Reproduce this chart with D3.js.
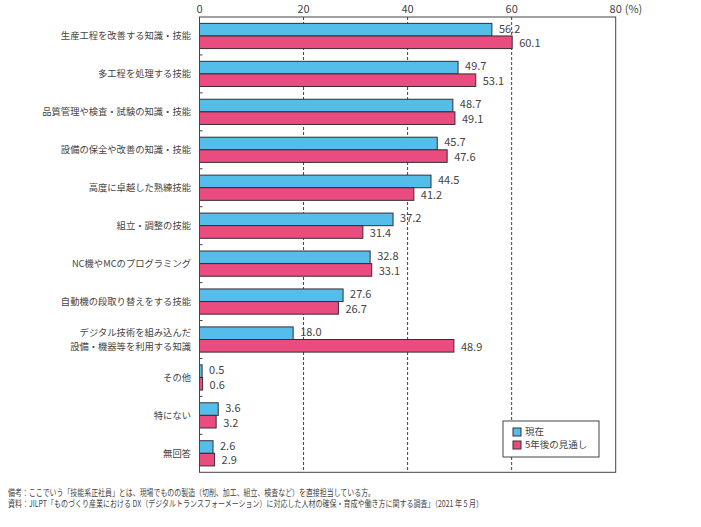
<!DOCTYPE html>
<html>
<head>
<meta charset="utf-8">
<script src="https://cdn.jsdelivr.net/npm/d3@7"></script>
<style>
  body { margin: 0; background: #fff; }
  text { font-family: "Noto Sans CJK JP", "Noto Sans", sans-serif; fill: #444; }
</style>
</head>
<body>
<div id="chart"></div>
<script>
// categories (top to bottom)
const categories = [
    "生産工程を改善する知識・技能",
    "多工程を処理する技能",
    "品質管理や検査・試験の知識・技能",
    "設備の保全や改善の知識・技能",
    "高度に卓越した熟練技能",
    "組立・調整の技能",
    "NC機やMCのプログラミング",
    "自動機の段取り替えをする技能",
    "デジタル技術を組み込んだ\n設備・機器等を利用する知識",
    "その他",
    "特にない",
    "無回答"
];
const current_values = [56.2, 49.7, 48.7, 45.7, 44.5, 37.2, 32.8, 27.6, 18.0, 0.5, 3.6, 2.6];
const future_values = [60.1, 53.1, 49.1, 47.6, 41.2, 31.4, 33.1, 26.7, 48.9, 0.6, 3.2, 2.9];
const series_names = ["現在", "5年後の見通し"];
const x_ticks = [0, 20, 40, 60, 80];
const notes = [
    "備考：ここでいう「技能系正社員」とは、現場でものの製造（切削、加工、組立、検査など）を直接担当している方。",
    "資料：JILPT「ものづくり産業における DX（デジタルトランスフォーメーション）に対応した人材の確保・育成や働き方に関する調査」（2021 年 5 月）"
];
const note_widths = [367, 475];

const colors = ["#55bde9", "#ea4c80"];
const width = 701, height = 527;
const margin = {top: 17, right: 85, bottom: 55, left: 199.5};

const svg = d3.select("#chart").append("svg")
    .attr("width", width)
    .attr("height", height);

// scales
const x = d3.scaleLinear()
    .domain([0, 80])
    .range([margin.left, 615.7]);

const y = d3.scaleBand()
    .domain(categories)
    .range([margin.top, 472.3]);

const bar_h = 12.6;
const pair_offset = (y.bandwidth() - 2 * bar_h) / 2;

// dashed grid lines
svg.append("g")
    .selectAll("line")
    .data(x_ticks.filter(d => d > 0 && d < 80))
    .join("line")
    .attr("x1", d => x(d))
    .attr("x2", d => x(d))
    .attr("y1", y.range()[0])
    .attr("y2", y.range()[1])
    .attr("stroke", "#444")
    .attr("stroke-width", 1)
    .attr("stroke-dasharray", "3,2");

// top axis labels
svg.append("g")
    .selectAll("text")
    .data(x_ticks)
    .join("text")
    .attr("x", d => x(d))
    .attr("y", 13)
    .attr("text-anchor", "middle")
    .attr("font-size", "11px")
    .text(d => d);

svg.append("text")
    .attr("x", x(80) + 9)
    .attr("y", 13)
    .attr("font-size", "11px")
    .text("(%)");

// data rows
const rows = categories.map((c, i) => ({cat: c, vals: [current_values[i], future_values[i]]}));

const groups = svg.append("g")
    .selectAll("g")
    .data(rows)
    .join("g")
    .attr("transform", d => `translate(0,${y(d.cat) + pair_offset})`);

groups.selectAll("rect")
    .data(d => d.vals)
    .join("rect")
    .attr("x", x(0))
    .attr("y", (d, i) => i * bar_h)
    .attr("width", d => x(d) - x(0))
    .attr("height", bar_h)
    .attr("fill", (d, i) => colors[i])
    .attr("stroke", "#3a2c34")
    .attr("stroke-width", 1);

groups.selectAll("text.val")
    .data(d => d.vals)
    .join("text")
    .attr("class", "val")
    .attr("x", d => x(d) + 7)
    .attr("y", (d, i) => i * bar_h + bar_h / 2 + (i === 0 ? -1 : 1))
    .attr("dy", "0.35em")
    .attr("font-size", "11px")
    .text(d => d.toFixed(1));

// category labels (multi-line ones become one text per line)
const line_gap = 13.5;
const label_lines = categories.flatMap(c => {
    const parts = c.split("\n");
    return parts.map((p, k) => ({
        cat: c,
        text: p,
        shift: (k - (parts.length - 1) / 2) * line_gap
    }));
});

svg.append("g")
    .selectAll("text")
    .data(label_lines)
    .join("text")
    .attr("x", 191)
    .attr("y", d => y(d.cat) + y.bandwidth() / 2 + d.shift)
    .attr("dy", "0.35em")
    .attr("text-anchor", "end")
    .attr("font-size", "9.3px")
    .text(d => d.text);

// frame
svg.append("rect")
    .attr("x", x(0))
    .attr("y", y.range()[0])
    .attr("width", x(80) - x(0))
    .attr("height", y.range()[1] - y.range()[0])
    .attr("fill", "none")
    .attr("stroke", "#444")
    .attr("stroke-width", 1);

// left axis small ticks between groups
svg.append("g")
    .selectAll("line")
    .data(categories.slice(1))
    .join("line")
    .attr("x1", x(0))
    .attr("x2", x(0) + 3)
    .attr("y1", d => y(d))
    .attr("y2", d => y(d))
    .attr("stroke", "#444");

// legend
const legend = svg.append("g")
    .attr("transform", "translate(503,421)");

legend.append("rect")
    .attr("width", 96)
    .attr("height", 36)
    .attr("fill", "#fff")
    .attr("stroke", "#444");

legend.selectAll("rect.key")
    .data(series_names)
    .join("rect")
    .attr("class", "key")
    .attr("x", 10)
    .attr("y", (d, i) => 7 + i * 13)
    .attr("width", 8)
    .attr("height", 8)
    .attr("fill", (d, i) => colors[i])
    .attr("stroke", "#3a2c34");

legend.selectAll("text")
    .data(series_names)
    .join("text")
    .attr("x", 22)
    .attr("y", (d, i) => 11 + i * 13)
    .attr("dy", "0.35em")
    .attr("font-size", "9.5px")
    .text(d => d);

// notes (source font is condensed, so squeeze to its width)
svg.append("g")
    .selectAll("text")
    .data(notes)
    .join("text")
    .attr("x", 8)
    .attr("y", (d, i) => 495.5 + i * 11.5)
    .attr("font-size", "8.8px")
    .attr("fill", "#333")
    .attr("textLength", (d, i) => note_widths[i])
    .attr("lengthAdjust", "spacingAndGlyphs")
    .text(d => d);
</script>
</body>
</html>
